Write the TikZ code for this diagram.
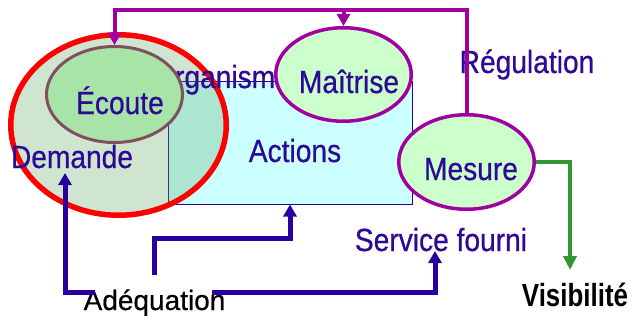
\documentclass[tikz,border=0pt]{standalone}
\usepackage{fontspec}
\newfontfamily\lblfont{Liberation Sans}[FakeStretch=0.88,FakeBold=0.6]
\newfontfamily\visfont{Liberation Sans}[FakeStretch=0.81]
\newfontfamily\plainfont{Liberation Sans}[FakeBold=0.5]
\usetikzlibrary{shapes.geometric,arrows.meta}

\definecolor{txtblue}{RGB}{45,10,150}
\definecolor{linkblue}{RGB}{40,0,160}
\definecolor{purp}{RGB}{160,0,160}
\definecolor{regred}{RGB}{255,0,0}
\definecolor{ecbord}{RGB}{128,80,96}
\definecolor{ecfill}{RGB}{168,228,168}
\definecolor{palegreen}{RGB}{204,255,204}
\definecolor{palecyan}{RGB}{204,255,255}
\definecolor{haze}{RGB}{100,170,100}
\definecolor{grn}{RGB}{50,150,50}

\tikzset{
  blob/.style={ellipse, inner sep=0pt},
  lbl/.style={anchor=base, inner sep=0pt, text=txtblue,
              font=\lblfont\fontsize{32}{36}\selectfont},
  feedback/.style={draw=purp, line width=4pt,
                   -{Triangle[width=13pt,length=12pt]}},
  supply/.style={draw=linkblue, line width=5pt,
                 -{Triangle[width=13pt,length=12pt]}},
  outflow/.style={draw=grn, line width=4pt,
                  -{Triangle[width=13pt,length=14pt]}},
}

\begin{document}
\begin{tikzpicture}[x=1pt,y=-1pt]
\useasboundingbox (0,0) rectangle (632,321);

% organisation box
\node[draw=linkblue, line width=1pt, fill=palecyan, inner sep=0pt,
      minimum width=244pt, minimum height=122pt] (box) at (290,143) {};
\node[lbl] (actions) at (295,162) {Actions};

% listening zone
\node[blob, draw=regred, line width=5.5pt, fill=haze, fill opacity=0.3,
      minimum width=215.5pt, minimum height=180.5pt] (zone) at (118.5,125) {};
\node[lbl] (organisme) at (222,88) {Organisme};

\node[blob, draw=ecbord, line width=3pt, fill=ecfill,
      minimum width=136pt, minimum height=96pt] (ecoute) at (114.5,94.5) {};
\node[blob, draw=purp, line width=3.5pt, fill=palegreen,
      minimum width=135.5pt, minimum height=93.5pt] (maitrise) at (343.5,74.5) {};
\node[blob, draw=purp, line width=3.5pt, fill=palegreen,
      minimum width=135.5pt, minimum height=94.5pt] (mesure) at (466.5,162) {};

\node[lbl] (tecoute) at (120,114) {Écoute};
\node[lbl] (tmaitrise) at (349,93) {Maîtrise};
\node[lbl] (tmesure) at (471,180) {Mesure};
\node[lbl] (demande) at (72,168) {Demande};
\node[lbl] (regulation) at (527,73) {Régulation};
\node[lbl] (service) at (441,251) {Service fourni};

\node[anchor=base, inner sep=0pt, text=black,
      font=\plainfont\fontsize{28}{32}\selectfont] (adequation) at (154.5,310) {Adéquation};
\node[anchor=base, inner sep=0pt, text=black,
      font=\visfont\bfseries\fontsize{32}{36}\selectfont] (visibilite) at (575,306) {Visibilité};

% connector end points
\coordinate (toprail) at (0,10);
\coordinate (adqL) at (95,292);
\coordinate (adqR) at (212,292);
\coordinate (demIn) at (65,173);
\coordinate (svcIn) at (435,251);
\coordinate (actStart) at (154,275);
\coordinate (actBend) at (154,238);
\coordinate (visIn) at (570,270);

% regulation loop
\draw[feedback] (mesure.north) -- (mesure.north |- toprail) -| (ecoute.north);
\draw[feedback] (maitrise.north |- toprail) -- (maitrise.north);

% adequation links
\draw[supply] (adqL) -| (demIn);
\draw[supply] (adqR) -| (svcIn);
\draw[supply] (actStart) -- (actBend) -| (box.south);

% visibility output
\draw[outflow] (mesure.east) -| (visIn);
\end{tikzpicture}
\end{document}
